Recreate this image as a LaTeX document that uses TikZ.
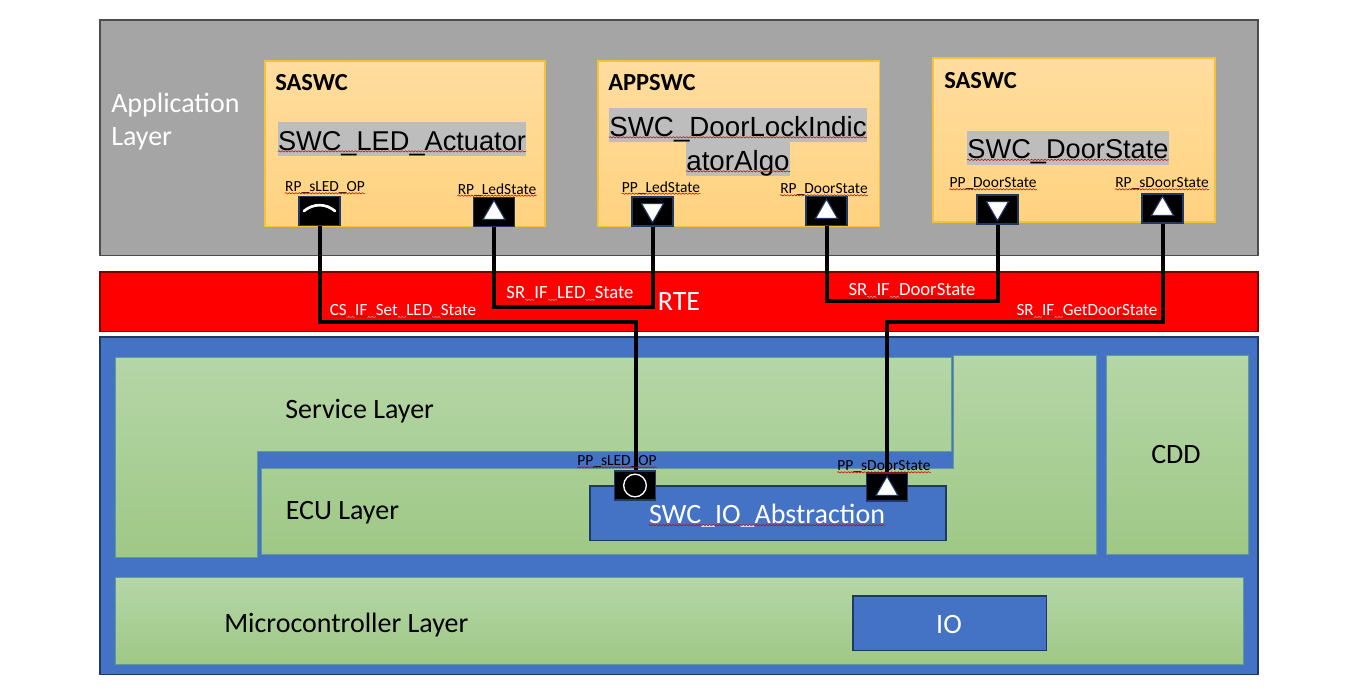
\documentclass[tikz,border=0pt]{standalone}
\usepackage{fontspec}
\setmainfont{Carlito}
\newfontfamily\arialfont{Liberation Sans}
\usetikzlibrary{arrows.meta,positioning,shapes.geometric,decorations.pathmorphing}
\definecolor{appgrey}{HTML}{A5A5A5}
\definecolor{navyline}{HTML}{1F3864}
\definecolor{ecublue}{HTML}{4472C4}
\definecolor{greentop}{HTML}{B5D6A7}
\definecolor{greenbot}{HTML}{9FC886}
\definecolor{greenline}{HTML}{5F9C95}
\definecolor{swctop}{HTML}{FFDD9F}
\definecolor{swcbot}{HTML}{FFD27F}
\definecolor{swcline}{HTML}{F4C13A}
\definecolor{hilite}{HTML}{BDBDBD}
\tikzset{
	layer/.style={draw=navyline, line width=1pt, fill=ecublue, anchor=north west, inner sep=0pt, outer sep=0pt},
	green/.style={draw=greenline, line width=0.7pt, top color=greentop, bottom color=greenbot},
	swc/.style={draw=swcline, line width=1pt, top color=swctop, bottom color=swcbot, anchor=north west, inner sep=0pt, outer sep=0pt},
	title/.style={font=\bfseries\fontsize{18.4}{20}\selectfont, anchor=west, inner sep=0pt},
	swcname/.style={font=\arialfont\fontsize{20.4}{24}\selectfont, fill=hilite, inner sep=0pt, text height=21pt, text depth=4.5pt},
	txt/.style={font=\fontsize{21}{24}\selectfont, inner sep=0pt},
	whitetxt/.style={txt, text=white},
	small/.style={font=\fontsize{11.6}{13}\selectfont, inner sep=0pt},
	smallw/.style={font=\fontsize{12.8}{15}\selectfont, inner sep=0pt, text=white},
	bigw/.style={font=\fontsize{14}{16}\selectfont, inner sep=0pt, text=white},
	port/.style={draw=navyline, line width=1.2pt, fill=black, minimum width=31pt, minimum height=22pt, inner sep=0pt},
	uptri/.style={regular polygon, regular polygon sides=3, draw=navyline, line width=0.8pt, fill=white, minimum size=19pt, inner sep=0pt},
	downtri/.style={uptri, shape border rotate=180},
	wire/.style={draw=black, line width=3pt},
	wavy/.style={draw=red!80!black, line width=0.4pt, decorate, decoration={snake, amplitude=0.5pt, segment length=2.5pt}}
}
\begin{document}
\begin{tikzpicture}[x=0.75pt,y=-0.75pt]
	\useasboundingbox (0,0) rectangle (1346,693);

	% layers
	\node[layer, fill=appgrey, draw=black!70, minimum width=868.5pt, minimum height=176.5pt] (app) at (100,20) {};
	\node[layer, fill=red, draw=red!50!black, minimum width=868.5pt, minimum height=44.5pt] (rte) at (100,272) {};
	\node[layer, minimum width=868.5pt, minimum height=253pt] (bsw) at (100,337) {};

	\draw[green] (115,357) -- (951,357) -- (951,451) -- (257,451) -- (257,557) -- (115,557) -- cycle;
	\draw[green] (261,468) -- (953,468) -- (953,355) -- (1096,355) -- (1096,554) -- (261,554) -- cycle;
	\node[green, anchor=north west, minimum width=106.5pt, minimum height=149.5pt, inner sep=0pt, outer sep=0pt] (cdd) at (1106,355) {};
	\node[green, anchor=north west, minimum width=846pt, minimum height=65.5pt, inner sep=0pt, outer sep=0pt] (micro) at (115,577) {};
	\node[layer, minimum width=145pt, minimum height=41pt] (io) at (853,596) {};
	\node[layer, minimum width=267pt, minimum height=41pt] (ioabs) at (590,486) {};

	% software components
	\node[swc, minimum width=210pt, minimum height=124pt] (led) at (265,61) {};
	\node[swc, minimum width=211pt, minimum height=124pt] (algo) at (598,61) {};
	\node[swc, minimum width=211.5pt, minimum height=123pt] (door) at (933,58) {};

	\node[title] (t1) at (275,83) {SASWC};
	\node[title] (t2) at (608,83) {APPSWC};
	\node[title] (t3) at (944,81) {SASWC};

	\node[swcname] (n1) at (402,139) {SWC\_LED\_Actuator};
	\node[swcname, font=\arialfont\fontsize{20.8}{24}\selectfont] (n2) at (738,125) {SWC\_DoorLockIndic};
	\node[swcname, font=\arialfont\fontsize{20.8}{24}\selectfont] (n3) at (738,159) {atorAlgo};
	\node[swcname] (n4) at (1068,147.5) {SWC\_DoorState};

	% ports
	\node[port] (p1) at (319.5,211) {};
	\node[port] (p2) at (494,212) {};
	\node[port] (p3) at (652.5,211.5) {};
	\node[port] (p4) at (826.5,211) {};
	\node[port] (p5) at (997.5,209.5) {};
	\node[port] (p6) at (1162.5,208.5) {};
	\node[port] (p7) at (635,485.5) {};
	\node[port, minimum height=21pt] (p8) at (887,487) {};

	% wires
	\coordinate (w1) at (480,322);
	\coordinate (w2) at (570,307);
	\coordinate (w3) at (910,301);
	\coordinate (w4) at (1020,322);
	\draw[wire] (p1.south) |- (w1) -| ([xshift=1pt]p7.north);
	\draw[wire] (p2.south) |- (w2) -| (p3.south);
	\draw[wire] (p4.south) |- (w3) -| (p5.south);
	\draw[wire] (p6.south) |- (w4) -| (p8.north);

	\node[uptri] (s2) at (494,213) {};
	\node[downtri] (s3) at (652.5,210) {};
	\node[uptri] (s4) at (826.5,212) {};
	\node[downtri] (s5) at (997.5,208) {};
	\node[uptri] (s6) at (1162.5,209) {};
	\node[uptri] (s8) at (887,489) {};
	\node[circle, draw=white, line width=1pt, minimum size=17pt, inner sep=0pt] (s7) at (635,485.5) {};
	\coordinate (a1) at (304,211);
	\coordinate (a2) at (335,211);
	\draw[draw=white, line width=2pt, line cap=round] (a1) to[bend left=40] (a2);

	% texts
	\node[whitetxt, anchor=west] (l1) at (111,105) {Application};
	\node[whitetxt, anchor=west] (l2) at (111,139) {Layer};
	\node[whitetxt] (l3) at (679,302) {RTE};
	\node[txt, anchor=west] (l4) at (285,411) {Service Layer};
	\node[txt, anchor=west] (l5) at (285.5,513) {ECU Layer};
	\node[txt] (l6) at (1176,455) {CDD};
	\node[txt, anchor=west] (l7) at (224,625) {Microcontroller Layer};
	\node[whitetxt] (l8) at (949,625) {IO};
	\node[whitetxt] (l9) at (767,516) {SWC\_IO\_Abstraction};

	\node[small] (q1) at (325,188) {RP\_sLED\_OP};
	\node[small] (q2) at (497,190) {RP\_LedState};
	\node[small] (q3) at (661,188) {PP\_LedState};
	\node[small] (q4) at (824,190) {RP\_DoorState};
	\node[small] (q5) at (993,184) {PP\_DoorState};
	\node[small] (q6) at (1162,184) {RP\_sDoorState};
	\node[small] (q7) at (617,462) {PP\_sLED\_OP};
	\node[small] (q8) at (884,467) {PP\_sDoorState};

	\node[smallw] (c1) at (403,311) {CS\_IF\_Set\_LED\_State};
	\node[bigw] (c2) at (570,294) {SR\_IF\_LED\_State};
	\node[bigw] (c3) at (912,291) {SR\_IF\_DoorState};
	\node[smallw] (c4) at (1087,311) {SR\_IF\_GetDoorState};

	% spell checker underlines
	\foreach \n in {n1,n2,n3,n4,l9,q1,q2,q3,q4,q5,q6,q7,q8,c1,c2,c3,c4}
		\draw[wavy] ([yshift=-1pt]\n.base west) -- ([yshift=-1pt]\n.base east);
\end{tikzpicture}
\end{document}
